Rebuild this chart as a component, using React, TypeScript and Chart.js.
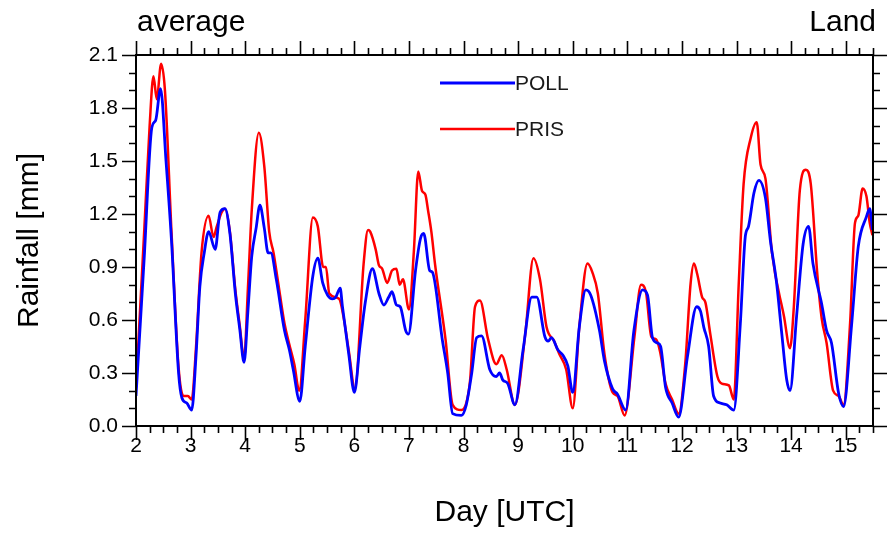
import { useEffect, useRef } from "react";
import { Chart, registerables } from "chart.js";

Chart.register(...registerables);

// ---- data ----
const pollDays = [
  2.0, 2.15, 2.29, 2.36, 2.45, 2.55, 2.65, 2.78, 2.84, 2.93, 3.02, 3.1, 3.17, 3.25, 3.33, 3.45, 3.54, 3.63, 3.72,
  3.82, 3.9, 3.98, 4.05, 4.12, 4.2, 4.27, 4.35, 4.42, 4.47, 4.57, 4.72, 4.81, 4.88, 5.0, 5.1, 5.24, 5.33, 5.42,
  5.51, 5.6, 5.66, 5.74, 5.78, 5.9, 6.0, 6.1, 6.2, 6.33, 6.45, 6.54, 6.63, 6.69, 6.77, 6.84, 6.94, 6.99, 7.12,
  7.21, 7.27, 7.38, 7.43, 7.61, 7.71, 7.8, 7.96, 8.05, 8.15, 8.24, 8.33, 8.48, 8.6, 8.66, 8.72, 8.81, 8.94, 9.09,
  9.25, 9.34, 9.49, 9.55, 9.61, 9.73, 9.82, 9.91, 10.0, 10.12, 10.24, 10.33, 10.49, 10.58, 10.73, 10.82, 10.97,
  11.12, 11.28, 11.37, 11.46, 11.55, 11.61, 11.7, 11.82, 11.94, 12.1, 12.27, 12.34, 12.4, 12.49, 12.58, 12.7,
  12.82, 12.95, 13.07, 13.16, 13.22, 13.32, 13.41, 13.53, 13.62, 13.73, 13.83, 13.92, 13.98, 14.1, 14.22, 14.32,
  14.4, 14.56, 14.65, 14.74, 14.87, 14.96, 15.11, 15.23, 15.38, 15.44, 15.49,
];
const pollValues = [
  0.17, 0.95, 1.69, 1.73, 1.91, 1.5, 1.05, 0.3, 0.16, 0.13, 0.09, 0.4, 0.79, 0.98, 1.1, 1.0, 1.21, 1.23, 1.09,
  0.75, 0.55, 0.36, 0.65, 0.96, 1.12, 1.25, 1.12, 0.98, 0.98, 0.83, 0.54, 0.43, 0.32, 0.14, 0.45, 0.85, 0.95, 0.81,
  0.74, 0.72, 0.73, 0.78, 0.68, 0.4, 0.19, 0.45, 0.7, 0.89, 0.75, 0.685, 0.73, 0.76, 0.685, 0.675, 0.54, 0.52, 0.88,
  1.06, 1.09, 0.88, 0.87, 0.49, 0.3, 0.07, 0.06, 0.12, 0.3, 0.5, 0.51, 0.32, 0.28, 0.3, 0.26, 0.24, 0.12, 0.43,
  0.73, 0.73, 0.505, 0.48, 0.5, 0.43, 0.4, 0.34, 0.19, 0.56, 0.77, 0.74, 0.54, 0.37, 0.21, 0.18, 0.09,
  0.54, 0.77, 0.74, 0.5, 0.47, 0.45, 0.22, 0.13, 0.05, 0.39, 0.675, 0.65, 0.56, 0.45, 0.17, 0.13,
  0.12, 0.09, 0.58, 1.07, 1.13, 1.32, 1.39, 1.29, 1.05, 0.82, 0.52, 0.26, 0.2, 0.62, 1.03, 1.13,
  0.92, 0.69, 0.54, 0.47, 0.185, 0.11, 0.58, 1.015, 1.185, 1.23, 1.11,
];

const prisDays = [
  2.0, 2.15, 2.25, 2.32, 2.38, 2.46, 2.53, 2.65, 2.78, 2.87, 2.95, 3.02, 3.1, 3.2, 3.33, 3.42, 3.48, 3.57, 3.63,
  3.72, 3.82, 3.9, 3.98, 4.05, 4.12, 4.25, 4.35, 4.44, 4.52, 4.6, 4.72, 4.81, 4.9, 4.99, 5.1, 5.24, 5.33, 5.43,
  5.48, 5.54, 5.72, 5.8, 5.9, 6.01, 6.17, 6.25, 6.29, 6.39, 6.45, 6.51, 6.6, 6.69, 6.77, 6.83, 6.89, 7.0, 7.09,
  7.17, 7.24, 7.3, 7.35, 7.41, 7.48, 7.67, 7.8, 7.96, 8.05, 8.12, 8.21, 8.3, 8.45, 8.6, 8.7, 8.79, 8.94, 9.13,
  9.28, 9.4, 9.52, 9.66, 9.75, 9.88, 10.0, 10.12, 10.27, 10.36, 10.46, 10.58, 10.73, 10.82, 10.95, 11.13, 11.25,
  11.34, 11.44, 11.53, 11.6, 11.7, 11.82, 11.94, 12.06, 12.16, 12.22, 12.28, 12.37, 12.43, 12.52, 12.65, 12.73,
  12.86, 12.95, 13.04, 13.13, 13.26, 13.37, 13.44, 13.53, 13.65, 13.87, 13.98, 14.05, 14.16, 14.27, 14.36, 14.48,
  14.56, 14.65, 14.77, 14.87, 14.96, 15.08, 15.17, 15.23, 15.31, 15.38, 15.44, 15.49,
];
const prisValues = [
  0.22, 1.1, 1.7, 1.98, 1.85, 2.05, 1.9, 1.1, 0.33, 0.17, 0.17, 0.15, 0.45, 0.98, 1.19, 1.07, 1.13, 1.21, 1.23,
  1.1, 0.77, 0.57, 0.38, 0.78, 1.22, 1.66, 1.47, 1.1, 0.98, 0.82, 0.58, 0.46, 0.35, 0.2, 0.6, 1.18, 1.13, 0.9,
  0.9, 0.75, 0.72, 0.62, 0.42, 0.21, 0.92, 1.11, 1.1, 1.0, 0.91, 0.89, 0.81, 0.88, 0.89, 0.8, 0.83, 0.66, 0.99,
  1.44, 1.33, 1.31, 1.22, 1.1, 0.91, 0.49, 0.12, 0.09, 0.13, 0.26, 0.675, 0.71, 0.49, 0.35, 0.4, 0.32, 0.12, 0.52,
  0.95, 0.83, 0.56, 0.48, 0.41, 0.32, 0.1, 0.56, 0.92, 0.87, 0.75, 0.41, 0.19, 0.17, 0.06, 0.505, 0.8,
  0.76, 0.505, 0.49, 0.42, 0.24, 0.15, 0.07, 0.35, 0.81, 0.92, 0.86, 0.73, 0.7, 0.52, 0.28, 0.24,
  0.23, 0.15, 0.8, 1.37, 1.63, 1.72, 1.48, 1.4, 0.98, 0.62, 0.44, 0.675, 1.335, 1.45, 1.37, 0.86,
  0.61, 0.47, 0.2, 0.17, 0.12, 0.58, 1.15, 1.19, 1.345, 1.3, 1.15, 1.08,
];

const seriesNames = ["POLL", "PRIS"];
const seriesColors = ["#0000ff", "#ff0000"];
const xTickValues = [2, 3, 4, 5, 6, 7, 8, 9, 10, 11, 12, 13, 14, 15];
const yTickValues = [0, 0.3, 0.6, 0.9, 1.2, 1.5, 1.8, 2.1];
const xMin = 2;
const xMax = 15.5;
const yMin = 0;
const yMax = 2.1;
const leftTitle = "average";
const rightTitle = "Land";
const xTitle = "Day [UTC]";
const yTitle = "Rainfall [mm]";

const FONT = "'Liberation Sans', Arial, Helvetica, sans-serif";

const decorPlugin = {
  id: "decor",
  afterDraw(chart: any) {
    const { ctx, chartArea: a, scales } = chart;
    const x = scales.x;
    const y = scales.y;
    ctx.save();
    ctx.strokeStyle = "#000";
    ctx.lineWidth = 2;
    ctx.strokeRect(a.left, a.top, a.right - a.left, a.bottom - a.top);
    ctx.lineWidth = 1.6;
    ctx.beginPath();
    const nx = Math.round((xMax - xMin) / 0.25);
    for (let i = 0; i <= nx; i++) {
      const v = xMin + i * 0.25;
      const px = Math.round(x.getPixelForValue(v)) + 0.5;
      const len = i % 4 === 0 ? 14 : 7;
      ctx.moveTo(px, a.bottom);
      ctx.lineTo(px, a.bottom + len);
      ctx.moveTo(px, a.top);
      ctx.lineTo(px, a.top - len);
    }
    const ny = Math.round((yMax - yMin) / 0.1);
    for (let i = 0; i <= ny; i++) {
      const v = yMin + i * 0.1;
      const py = Math.round(y.getPixelForValue(v)) + 0.5;
      const len = i % 3 === 0 ? 14 : 7;
      ctx.moveTo(a.left, py);
      ctx.lineTo(a.left - len, py);
      ctx.moveTo(a.right, py);
      ctx.lineTo(a.right + len, py);
    }
    ctx.stroke();

    // corner titles
    ctx.fillStyle = "#000";
    ctx.font = `30px ${FONT}`;
    ctx.textBaseline = "alphabetic";
    ctx.textAlign = "left";
    ctx.fillText(leftTitle, a.left + 1, 31);
    ctx.textAlign = "right";
    ctx.fillText(rightTitle, a.right + 3, 31);

    // legend
    const legendY = [83, 129];
    const lineX0 = 440;
    const lineX1 = 515;
    ctx.font = `21px ${FONT}`;
    ctx.textAlign = "left";
    ctx.textBaseline = "middle";
    seriesNames.forEach((name, i) => {
      ctx.strokeStyle = seriesColors[i];
      ctx.lineWidth = i === 0 ? 3 : 2.5;
      ctx.beginPath();
      ctx.moveTo(lineX0, legendY[i]);
      ctx.lineTo(lineX1, legendY[i]);
      ctx.stroke();
      ctx.fillStyle = "#1a1a1a";
      ctx.fillText(name, lineX1, legendY[i] + 1);
    });
    ctx.restore();
  },
};

export default function App() {
  const canvasRef = useRef<HTMLCanvasElement | null>(null);

  useEffect(() => {
    if (!canvasRef.current) return;
    const poll = pollDays.map((d, i) => ({ x: d, y: pollValues[i] }));
    const pris = prisDays.map((d, i) => ({ x: d, y: prisValues[i] }));
    const chart = new Chart(canvasRef.current, {
      type: "line",
      data: {
        datasets: [
          {
            label: seriesNames[0],
            data: poll,
            borderColor: seriesColors[0],
            borderWidth: 2.8,
            pointRadius: 0,
            cubicInterpolationMode: "monotone",
            fill: false,
          },
          {
            label: seriesNames[1],
            data: pris,
            borderColor: seriesColors[1],
            borderWidth: 2.5,
            pointRadius: 0,
            cubicInterpolationMode: "monotone",
            fill: false,
          },
        ],
      },
      options: {
        responsive: false,
        animation: false,
        devicePixelRatio: 1,
        layout: { padding: { top: 55, right: 19, left: 0, bottom: 0 } },
        plugins: {
          legend: { display: false },
          tooltip: { enabled: false },
          title: { display: false },
        },
        scales: {
          x: {
            type: "linear",
            min: xMin,
            max: xMax,
            grid: { display: false, drawTicks: false },
            border: { display: false },
            afterBuildTicks: (s: any) => {
              s.ticks = xTickValues.map((v) => ({ value: v }));
            },
            afterFit: (s: any) => {
              s.height = 108;
            },
            ticks: {
              autoSkip: false,
              maxRotation: 0,
              padding: 8,
              color: "#000",
              font: { size: 21, family: FONT },
              callback: (v: any) => String(v),
            },
            title: {
              display: true,
              text: xTitle,
              color: "#000",
              font: { size: 30, family: FONT },
              padding: { top: 0, bottom: 3 },
            },
          },
          y: {
            type: "linear",
            min: yMin,
            max: yMax,
            grid: { display: false, drawTicks: false },
            border: { display: false },
            afterBuildTicks: (s: any) => {
              s.ticks = yTickValues.map((v) => ({ value: v }));
            },
            afterFit: (s: any) => {
              s.width = 136;
            },
            ticks: {
              padding: 18,
              color: "#000",
              font: { size: 21, family: FONT },
              callback: (v: any) => Number(v).toFixed(1),
            },
            title: {
              display: true,
              text: yTitle,
              color: "#000",
              font: { size: 30, family: FONT },
              padding: { top: 12, bottom: 0 },
            },
          },
        },
      },
      plugins: [decorPlugin],
    });
    return () => chart.destroy();
  }, []);

  return (
    <div style={{ position: "absolute", left: 0, top: 0, width: 892, height: 534, background: "#fff" }}>
      <canvas ref={canvasRef} width={892} height={534} style={{ display: "block" }} />
    </div>
  );
}
